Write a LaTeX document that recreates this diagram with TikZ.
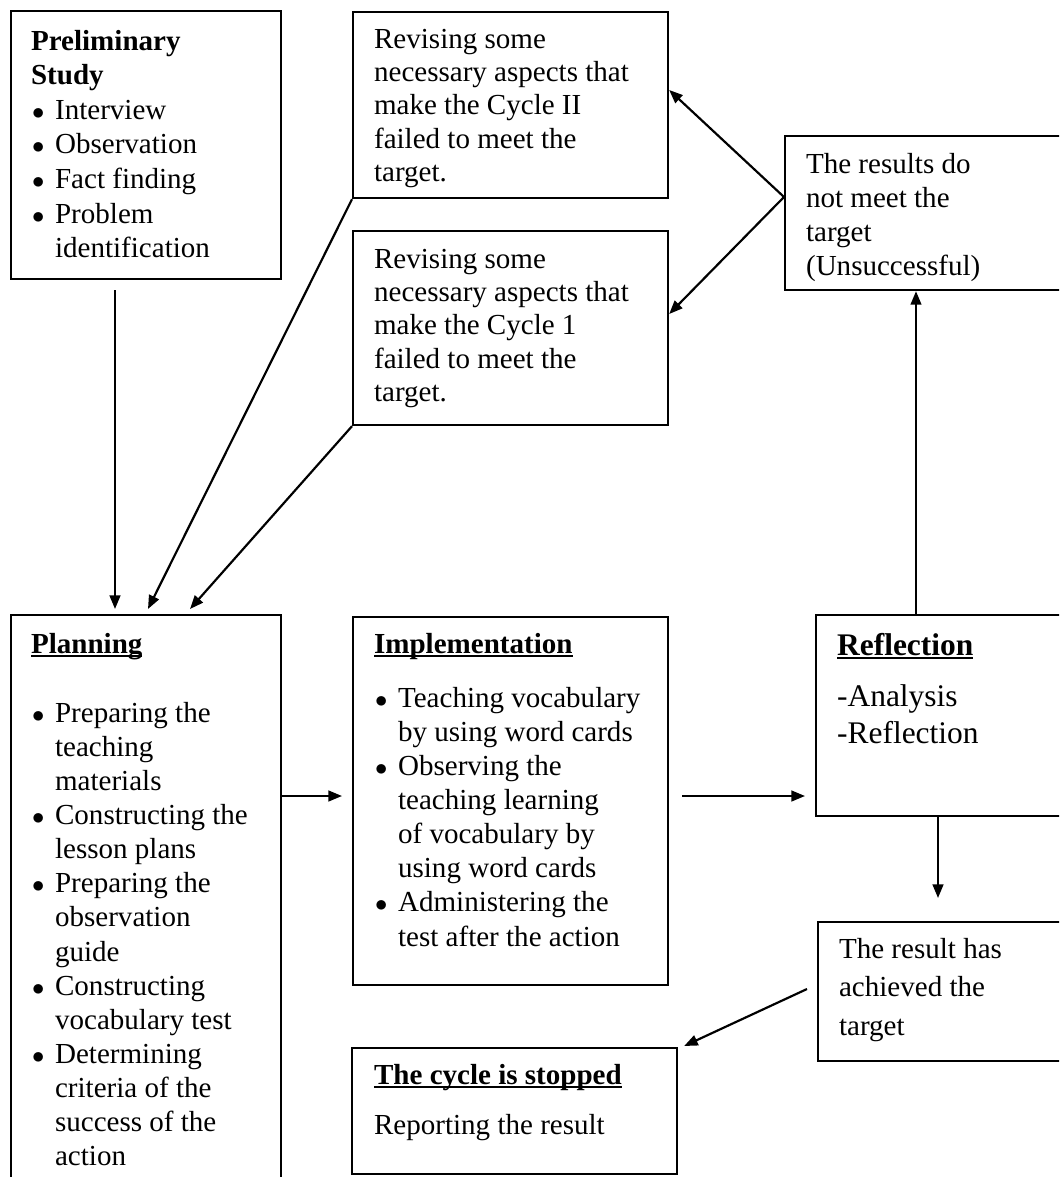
\documentclass[tikz,border=0pt]{standalone}
\usepackage{fontspec}
\setmainfont{Liberation Serif}
\usetikzlibrary{arrows.meta,calc}
\newlength{\px}\setlength{\px}{0.4132pt}
\newsavebox{\ulbox}
% body of a box: width, height, left pad, first baseline (all in px), text
\newcommand{\cardtext}[5]{\parbox[t][#2\px][t]{#1\px}{\leftskip=#3\px\relax\rule{0pt}{#4\px}#5}}
\newcommand{\itm}[1]{\par\hangindent=24\px\hangafter=1\noindent\makebox[24\px][l]{\hspace{1\px}\scalebox{0.85}{$\bullet$}}#1}
\newcommand{\undr}[1]{\sbox{\ulbox}{#1}\rlap{\rule[-1.5pt]{\wd\ulbox}{0.6pt}}\usebox{\ulbox}}
\tikzset{card/.style={draw, line width=0.9pt, anchor=north west, inner sep=0pt,
    font=\fontsize{12pt}{14.1pt}\selectfont}}

\begin{document}
\begin{tikzpicture}[x=0.4132pt, y=-0.4132pt, >={Triangle[length=5.6pt,width=4.4pt]},
    flow/.style={->, line width=0.9pt}]
  \useasboundingbox (0,0) rectangle (1059,1177);
  \clip (0,0) rectangle (1059,1177);
  % upper boxes
  \node[card, font=\fontsize{12pt}{14.3pt}\selectfont] (prelim) at (10,10)
    {\cardtext{270}{268}{20}{39}{{\bfseries Preliminary\newline Study}\itm{Interview}\itm{Observation}\itm{Fact finding}\itm{Problem\newline identification}}};
  \node[card, font=\fontsize{12pt}{13.8pt}\selectfont] (rev2) at (352,11)
    {\cardtext{315}{186}{21}{36}{Revising some\newline necessary aspects that\newline make the Cycle II\newline failed to meet the\newline target.}};
  \node[card, font=\fontsize{12pt}{13.8pt}\selectfont] (rev1) at (352,230)
    {\cardtext{315}{194}{21}{37}{Revising some\newline necessary aspects that\newline make the Cycle 1\newline failed to meet the\newline target.}};
  \node[card] (fail) at (784,135)
    {\cardtext{296}{154}{21}{37}{The results do\newline not meet the\newline target\newline (Unsuccessful)}};
  % lower boxes
  \node[card] (plan) at (10,614)
    {\cardtext{270}{600}{20}{38}{\undr{\bfseries Planning}\par\vspace{35\px}%
      \itm{Preparing the\newline teaching\newline materials}%
      \itm{Constructing the\newline lesson plans}%
      \itm{Preparing the\newline observation\newline guide}%
      \itm{Constructing\newline vocabulary test}%
      \itm{Determining\newline criteria of the\newline success of the\newline action}}};
  \node[card] (impl) at (352,616)
    {\cardtext{315}{368}{21}{36}{\undr{\bfseries Implementation}\par\vspace{20\px}%
      \itm{Teaching vocabulary\newline by using word cards}%
      \itm{Observing the\newline teaching learning\newline of vocabulary by\newline using word cards}%
      \itm{Administering the\newline test after the action}}};
  \node[card, font=\fontsize{13pt}{15.3pt}\selectfont] (refl) at (815,614)
    {\cardtext{265}{201}{21}{40}{\undr{\bfseries Reflection}\par\vspace{14\px}-Analysis\newline -Reflection}};
  \node[card, font=\fontsize{12pt}{15.9pt}\selectfont] (done) at (817,921)
    {\cardtext{263}{139}{21}{36}{The result has\newline achieved the\newline target}};
  \node[card] (stop) at (351,1047)
    {\cardtext{325}{126}{22}{36}{\undr{\bfseries The cycle is stopped}\par\vspace{16\px}Reporting the result}};
  % arrows
  \coordinate (fork) at ($(fail.north west)+(0,62)$);
  \draw[flow] ($(prelim.south west)+(105,10)$) -- ($(plan.north west)+(105,-5)$);
  \draw[flow] (rev2.south west) -- ($(plan.north west)+(138,-5)$);
  \draw[flow] (rev1.south west) -- ($(plan.north west)+(180,-5)$);
  \draw[flow] (fork) -- ($(rev2.north east)+(0,79)$);
  \draw[flow] (fork) -- ($(rev1.north east)+(0,84)$);
  \draw[flow] ($(refl.north west)+(101,0)$) -- ($(fail.south west)+(132,0)$);
  \draw[flow] ($(plan.north east)+(0,182)$) -- ($(impl.north west)+(-10,180)$);
  \draw[flow] ($(impl.north east)+(13,180)$) -- ($(refl.north west)+(-10,182)$);
  \draw[flow] ($(refl.south west)+(123,0)$) -- ($(done.north west)+(121,-23)$);
  \draw[flow] ($(done.north west)+(-10,68)$) -- ($(stop.north east)+(6,-1)$);
\end{tikzpicture}
\end{document}
